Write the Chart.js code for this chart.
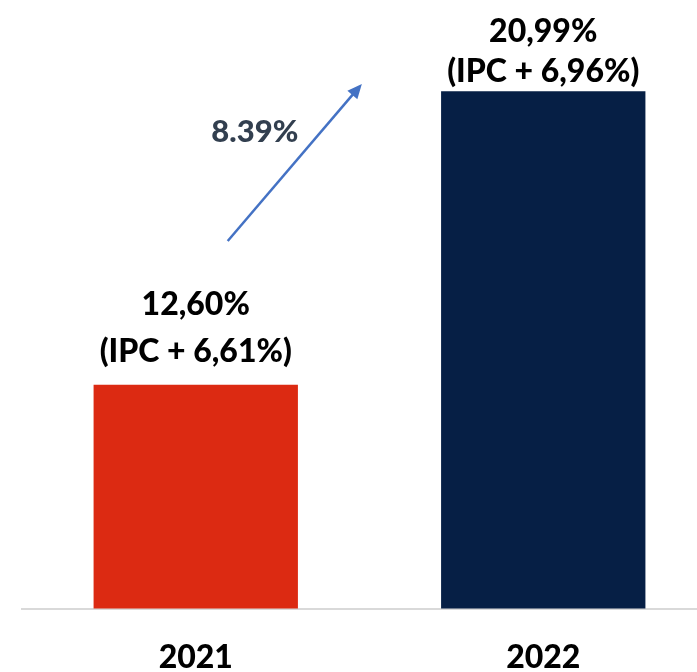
<!DOCTYPE html>
<html>
<head>
<meta charset="utf-8">
<script src="https://cdn.jsdelivr.net/npm/chart.js@4/dist/chart.umd.min.js"></script>
<style>
  html, body { margin: 0; padding: 0; background: #ffffff; overflow: hidden; }
  #wrap { width: 697px; height: 672px; overflow: hidden; }
</style>
</head>
<body>
<div id="wrap"><canvas id="rateChart" width="720" height="672"></canvas></div>
<script>
// Chart data
const years = ['2021', '2022'];
const rates = [12.60, 20.99];
const rateLabels = ['12,60%', '20,99%'];
const ipcLabels = ['(IPC + 6,61%)', '(IPC + 6,96%)'];
const barColors = ['#DC2A12', '#061F45'];
const growthLabel = '8.39%';

// value labels above each bar, two lines
const barLabelPlugin = {
    id: 'barLabels',
    afterDatasetsDraw(chart) {
        const ctx = chart.ctx;
        const bars = chart.getDatasetMeta(0).data;
        const gaps = [[81, 34], [61, 21]];  // cap-centre distance above bar top
        ctx.save();
        ctx.fillStyle = '#000000';
        ctx.font = '900 32px Lato';
        ctx.textAlign = 'center';
        ctx.textBaseline = 'alphabetic';
        bars.forEach((bar, i) => {
            ctx.fillText(rateLabels[i], bar.x, bar.y - gaps[i][0] + 11.5);
            ctx.fillText(ipcLabels[i], bar.x, bar.y - gaps[i][1] + 11.5);
        });
        ctx.restore();
    }
};

// growth arrow between the two bars
const arrowPlugin = {
    id: 'growthArrow',
    afterDatasetsDraw(chart) {
        const ctx = chart.ctx;
        const xs = chart.scales.x, ys = chart.scales.y;
        const x1 = xs.getPixelForValue(0.092), y1 = ys.getPixelForValue(16.71);
        const x2 = xs.getPixelForValue(0.478), y2 = ys.getPixelForValue(21.2);
        const ang = Math.atan2(y2 - y1, x2 - x1);
        const head = 16;
        ctx.save();
        ctx.strokeStyle = '#4472C4';
        ctx.fillStyle = '#4472C4';
        ctx.lineWidth = 2.5;
        ctx.beginPath();
        ctx.moveTo(x1, y1);
        ctx.lineTo(x2 - Math.cos(ang) * head * 0.8, y2 - Math.sin(ang) * head * 0.8);
        ctx.stroke();
        ctx.beginPath();
        ctx.moveTo(x2, y2);
        ctx.lineTo(x2 - head * Math.cos(ang - 0.42), y2 - head * Math.sin(ang - 0.42));
        ctx.lineTo(x2 - head * Math.cos(ang + 0.42), y2 - head * Math.sin(ang + 0.42));
        ctx.closePath();
        ctx.fill();

        ctx.fillStyle = '#323F4F';
        ctx.font = '900 31px Lato';
        ctx.textAlign = 'center';
        ctx.textBaseline = 'alphabetic';
        ctx.fillText(growthLabel, xs.getPixelForValue(0.17), ys.getPixelForValue(19.85) + 11);
        ctx.restore();
    }
};

const ctx = document.getElementById('rateChart').getContext('2d');
const rateChart = new Chart(ctx, {
    type: 'bar',
    data: {
        labels: years,
        datasets: [{
            data: rates,
            backgroundColor: barColors,
            borderWidth: 0,
            barPercentage: 0.588,
            categoryPercentage: 1.0
        }]
    },
    options: {
        responsive: false,
        animation: false,
        layout: { padding: { left: 22, right: 3, top: 0, bottom: -35 } },
        plugins: {
            legend: { display: false },
            tooltip: { enabled: false }
        },
        scales: {
            x: {
                grid: { display: false, drawTicks: false },
                border: { display: true, color: '#D9D9D9', width: 2 },
                ticks: {
                    color: '#000000',
                    font: { family: 'Lato', size: 32, weight: '900' },
                    padding: 30
                }
            },
            y: {
                display: false,
                min: 6.2,
                max: 23.6
            }
        }
    },
    plugins: [barLabelPlugin, arrowPlugin]
});
</script>
</body>
</html>
